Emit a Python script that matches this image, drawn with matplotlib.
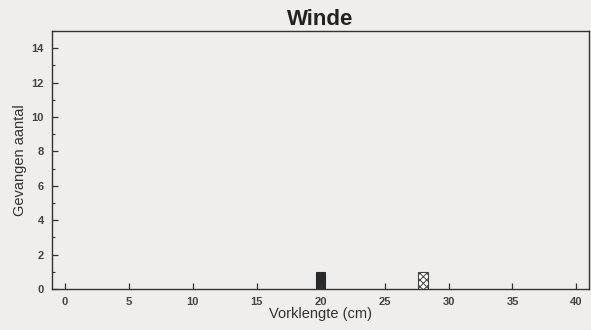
import matplotlib
matplotlib.use("Agg")
import matplotlib.pyplot as plt
from matplotlib.ticker import MultipleLocator

plt.rcParams['font.family'] = ['Liberation Sans', 'DejaVu Sans']
plt.rcParams['hatch.linewidth'] = 0.7

# Catches per fork length
lengths_solid = [20]
counts_solid = [1]
lengths_hatched = [28]
counts_hatched = [1]

xticks = [0, 5, 10, 15, 20, 25, 30, 35, 40]
yticks = [0, 2, 4, 6, 8, 10, 12, 14]

bg = '#efeeec'
fig = plt.figure(figsize=(5.91, 3.3), dpi=100, facecolor=bg)
ax = fig.add_axes([0.088, 0.124, 0.909, 0.782], facecolor=bg)

ax.bar(lengths_solid, counts_solid, width=0.7, color='#2a2a2a', edgecolor='#2a2a2a', linewidth=0.8)
ax.bar(lengths_hatched, counts_hatched, width=0.85, color='white', edgecolor='#444444',
       hatch='xxxxx', linewidth=0.8)

ax.set_xlim(-1, 41)
ax.set_ylim(0, 15)
ax.set_xticks(xticks)
ax.set_yticks(yticks)
ax.yaxis.set_minor_locator(MultipleLocator(1))
ax.tick_params(direction='in', length=4, width=0.9, colors='#333333', labelsize=8, pad=6)
ax.tick_params(which='minor', direction='in', length=2.5, width=0.8, colors='#333333')
for lbl in ax.get_xticklabels() + ax.get_yticklabels():
    lbl.set_fontweight('bold')
    lbl.set_color('#444444')
for s in ax.spines.values():
    s.set_color('#333333')
    s.set_linewidth(1.0)

ax.set_title('Winde', fontsize=16, fontweight='bold', color='#222222', pad=4)
ax.set_xlabel('Vorklengte (cm)', fontsize=10.5, color='#333333', labelpad=0)
ax.set_ylabel('Gevangen aantal', fontsize=10.5, color='#333333', labelpad=3)

fig.savefig('out.png', dpi=100, facecolor=bg)
